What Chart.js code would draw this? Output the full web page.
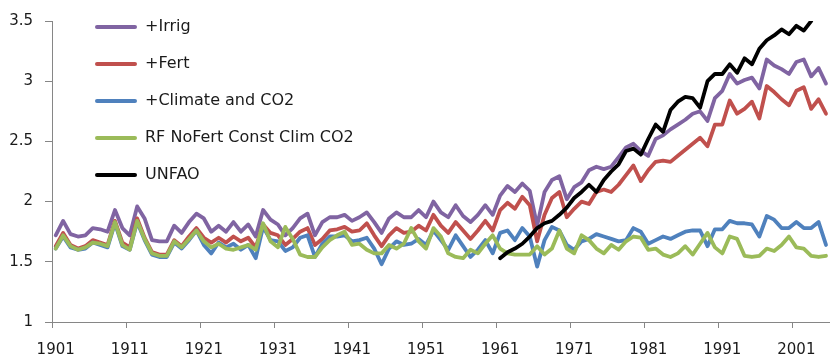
<!DOCTYPE html>
<html>
<head>
<meta charset="utf-8">
<script src="https://cdn.jsdelivr.net/npm/chart.js@4.4.0/dist/chart.umd.min.js"></script>
<style>
  html, body { margin: 0; padding: 0; background: #fff; }
</style>
</head>
<body>
<canvas id="lineChart" width="839" height="357"></canvas>
<script>
// categories (one per year)
var years = [
    1901, 1902, 1903, 1904, 1905, 1906, 1907, 1908, 1909, 1910,
    1911, 1912, 1913, 1914, 1915, 1916, 1917, 1918, 1919, 1920,
    1921, 1922, 1923, 1924, 1925, 1926, 1927, 1928, 1929, 1930,
    1931, 1932, 1933, 1934, 1935, 1936, 1937, 1938, 1939, 1940,
    1941, 1942, 1943, 1944, 1945, 1946, 1947, 1948, 1949, 1950,
    1951, 1952, 1953, 1954, 1955, 1956, 1957, 1958, 1959, 1960,
    1961, 1962, 1963, 1964, 1965, 1966, 1967, 1968, 1969, 1970,
    1971, 1972, 1973, 1974, 1975, 1976, 1977, 1978, 1979, 1980,
    1981, 1982, 1983, 1984, 1985, 1986, 1987, 1988, 1989, 1990,
    1991, 1992, 1993, 1994, 1995, 1996, 1997, 1998, 1999, 2000,
    2001, 2002, 2003, 2004, 2005
];

var irrig = [
    1.72, 1.84, 1.73, 1.71, 1.72, 1.78, 1.77, 1.75, 1.93, 1.78,
    1.72, 1.96, 1.86, 1.68, 1.67, 1.67, 1.80, 1.74, 1.83, 1.90,
    1.86, 1.75, 1.80, 1.75, 1.83, 1.75, 1.81, 1.71, 1.93, 1.85,
    1.81, 1.72, 1.78, 1.86, 1.90, 1.72, 1.83, 1.87, 1.87, 1.89,
    1.84, 1.87, 1.91, 1.83, 1.74, 1.86, 1.91, 1.87, 1.87, 1.93,
    1.87, 2.00, 1.91, 1.87, 1.97, 1.88, 1.83, 1.89, 1.97, 1.89,
    2.05, 2.13, 2.08, 2.15, 2.09, 1.80, 2.08, 2.18, 2.21, 2.02,
    2.12, 2.16, 2.26, 2.29, 2.27, 2.29, 2.37, 2.45, 2.48, 2.42,
    2.38, 2.52, 2.55, 2.60, 2.64, 2.68, 2.73, 2.75, 2.67, 2.86,
    2.92, 3.06, 2.98, 3.01, 3.03, 2.94, 3.18, 3.13, 3.10, 3.06,
    3.16, 3.18, 3.04, 3.11, 2.98
];

var fert = [
    1.63, 1.74, 1.64, 1.61, 1.63, 1.68, 1.66, 1.64, 1.84, 1.66,
    1.62, 1.86, 1.70, 1.58, 1.56, 1.56, 1.68, 1.63, 1.71, 1.78,
    1.70, 1.66, 1.70, 1.66, 1.71, 1.67, 1.70, 1.62, 1.81, 1.74,
    1.72, 1.64, 1.69, 1.75, 1.78, 1.64, 1.69, 1.76, 1.77, 1.79,
    1.75, 1.76, 1.82, 1.72, 1.63, 1.72, 1.78, 1.74, 1.75, 1.80,
    1.76, 1.89, 1.80, 1.74, 1.83, 1.76, 1.69, 1.76, 1.84, 1.76,
    1.93, 1.99, 1.94, 2.04, 1.97, 1.67, 1.89, 2.03, 2.08, 1.87,
    1.94, 2.00, 1.98, 2.08, 2.10, 2.08, 2.14, 2.22, 2.30, 2.17,
    2.26, 2.33, 2.34, 2.33, 2.38, 2.43, 2.48, 2.53, 2.46, 2.64,
    2.64, 2.84, 2.73, 2.77, 2.83, 2.69, 2.96, 2.91, 2.85, 2.80,
    2.92, 2.95, 2.77, 2.85, 2.73
];

var climateCO2 = [
    1.61, 1.71, 1.62, 1.60, 1.61, 1.66, 1.64, 1.62, 1.82, 1.63,
    1.60, 1.83, 1.68, 1.56, 1.54, 1.54, 1.66, 1.61, 1.68, 1.76,
    1.64, 1.57, 1.66, 1.62, 1.65, 1.60, 1.64, 1.53, 1.79, 1.68,
    1.67, 1.59, 1.62, 1.70, 1.72, 1.54, 1.65, 1.71, 1.71, 1.72,
    1.67, 1.68, 1.70, 1.61, 1.48, 1.61, 1.67, 1.64, 1.65, 1.69,
    1.64, 1.76, 1.68, 1.60, 1.72, 1.63, 1.54, 1.60, 1.68, 1.57,
    1.74, 1.76, 1.68, 1.78, 1.71, 1.46, 1.68, 1.79, 1.76, 1.64,
    1.60, 1.67, 1.69, 1.73, 1.71, 1.69, 1.67, 1.68, 1.78, 1.75,
    1.65, 1.68, 1.71, 1.69, 1.72, 1.75, 1.76, 1.76, 1.63, 1.77,
    1.77, 1.84, 1.82, 1.82, 1.81, 1.71, 1.88, 1.85, 1.78, 1.78,
    1.83, 1.78, 1.78, 1.83, 1.64
];

var rfNoFert = [
    1.61, 1.72, 1.63, 1.60, 1.62, 1.66, 1.65, 1.63, 1.83, 1.64,
    1.60, 1.84, 1.69, 1.57, 1.55, 1.55, 1.67, 1.62, 1.69, 1.76,
    1.67, 1.62, 1.65, 1.61, 1.60, 1.62, 1.64, 1.60, 1.82, 1.67,
    1.62, 1.79, 1.69, 1.56, 1.54, 1.54, 1.62, 1.68, 1.72, 1.75,
    1.64, 1.65, 1.60, 1.57, 1.57, 1.64, 1.61, 1.65, 1.78, 1.67,
    1.61, 1.78, 1.71, 1.57, 1.54, 1.53, 1.60, 1.57, 1.65, 1.72,
    1.61, 1.57, 1.56, 1.56, 1.56, 1.63, 1.56, 1.61, 1.76, 1.61,
    1.57, 1.72, 1.68, 1.61, 1.57, 1.64, 1.60, 1.67, 1.71, 1.70,
    1.60, 1.61, 1.56, 1.54, 1.57, 1.63, 1.56, 1.65, 1.74, 1.62,
    1.57, 1.71, 1.69, 1.55, 1.54, 1.55, 1.61, 1.59, 1.64, 1.71,
    1.62, 1.61, 1.55, 1.54, 1.55
];

// UN FAO observed, 1961 - 2003
var unfaoFirstYear = 1961;
var unfao = [
    1.53, 1.58, 1.61, 1.65, 1.71, 1.78, 1.82, 1.84, 1.89, 1.95,
    2.03, 2.08, 2.14, 2.08, 2.18, 2.25, 2.31, 2.42, 2.44, 2.39,
    2.52, 2.64, 2.58, 2.76, 2.83, 2.87, 2.86, 2.78, 3.00, 3.06,
    3.06, 3.14, 3.07, 3.19, 3.14, 3.27, 3.34, 3.38, 3.43, 3.39,
    3.46, 3.42, 3.50
];

var seriesNames = ['+Irrig', '+Fert', '+Climate and CO2', 'RF NoFert Const Clim CO2', 'UNFAO'];
var seriesColors = ['#8064A2', '#C0504D', '#4F81BD', '#9BBB59', '#000000'];
var yTicks = [1, 1.5, 2, 2.5, 3, 3.5];

var axisGray = '#868686';
var textColor = '#1a1a1a';

// put unfao on the year categories
var unfaoByYear = years.map(function (y) {
    var i = y - unfaoFirstYear;
    return (i >= 0 && i < unfao.length) ? unfao[i] : null;
});

var allSeries = [irrig, fert, climateCO2, rfNoFert, unfaoByYear];

var datasets = allSeries.map(function (vals, i) {
    return {
        label: seriesNames[i],
        data: vals,
        borderColor: seriesColors[i],
        backgroundColor: seriesColors[i],
        borderWidth: 3.8,
        borderJoinStyle: 'round',
        borderCapStyle: 'round',
        pointRadius: 0,
        tension: 0,
        order: allSeries.length - 1 - i   // later series on top, like Excel
    };
});

// move the in-plot legend to where the original has it
var legendSpot = {
    id: 'legendSpot',
    afterLayout: function (chart) {
        var lg = chart.legend;
        lg.left += 22;
        lg.top -= 2;
    }
};

var ctx = document.getElementById('lineChart').getContext('2d');
var myLineChart = new Chart(ctx, {
    type: 'line',
    data: {
        labels: years,
        datasets: datasets
    },
    plugins: [legendSpot],
    options: {
        responsive: false,
        animation: false,
        devicePixelRatio: 1,
        layout: { padding: { top: 18, right: 0, bottom: 0, left: 0 } },
        plugins: {
            tooltip: { enabled: false },
            legend: {
                position: 'chartArea',
                align: 'start',
                labels: {
                    boxWidth: 42,
                    boxHeight: 4,
                    padding: 21,
                    color: textColor,
                    font: { family: 'DejaVu Sans', size: 16 },
                    generateLabels: function (chart) {
                        return chart.data.datasets.map(function (ds, i) {
                            return {
                                text: ds.label,
                                fillStyle: ds.borderColor,
                                strokeStyle: ds.borderColor,
                                lineWidth: 0,
                                borderRadius: 2,
                                fontColor: textColor,
                                hidden: false,
                                datasetIndex: i
                            };
                        });
                    }
                }
            }
        },
        scales: {
            x: {
                type: 'category',
                offset: true,
                afterFit: function (scale) { scale.height = 35; },
                border: { display: true, color: axisGray, width: 1 },
                grid: {
                    offset: true,
                    drawOnChartArea: false,
                    drawTicks: true,
                    tickLength: 6,
                    tickColor: function (c) {
                        return (c.index % 10 === 0) ? axisGray : 'rgba(0,0,0,0)';
                    }
                },
                ticks: {
                    autoSkip: false,
                    maxRotation: 0,
                    minRotation: 0,
                    padding: 13,
                    color: textColor,
                    font: { family: 'DejaVu Sans', size: 15 },
                    callback: function (value, index) {
                        return (index % 10 === 0) ? String(years[index]) : '';
                    }
                }
            },
            y: {
                min: 1,
                max: 3.5,
                afterFit: function (scale) { scale.width = 52; },
                afterBuildTicks: function (scale) {
                    scale.ticks = yTicks.map(function (v) { return { value: v }; });
                },
                border: { display: true, color: axisGray, width: 1 },
                grid: {
                    drawOnChartArea: false,
                    drawTicks: true,
                    tickLength: 7,
                    tickColor: axisGray
                },
                ticks: {
                    padding: 12,
                    color: textColor,
                    font: { family: 'DejaVu Sans', size: 15 },
                    callback: function (value) { return String(value); }
                }
            }
        }
    }
});
</script>
</body>
</html>
